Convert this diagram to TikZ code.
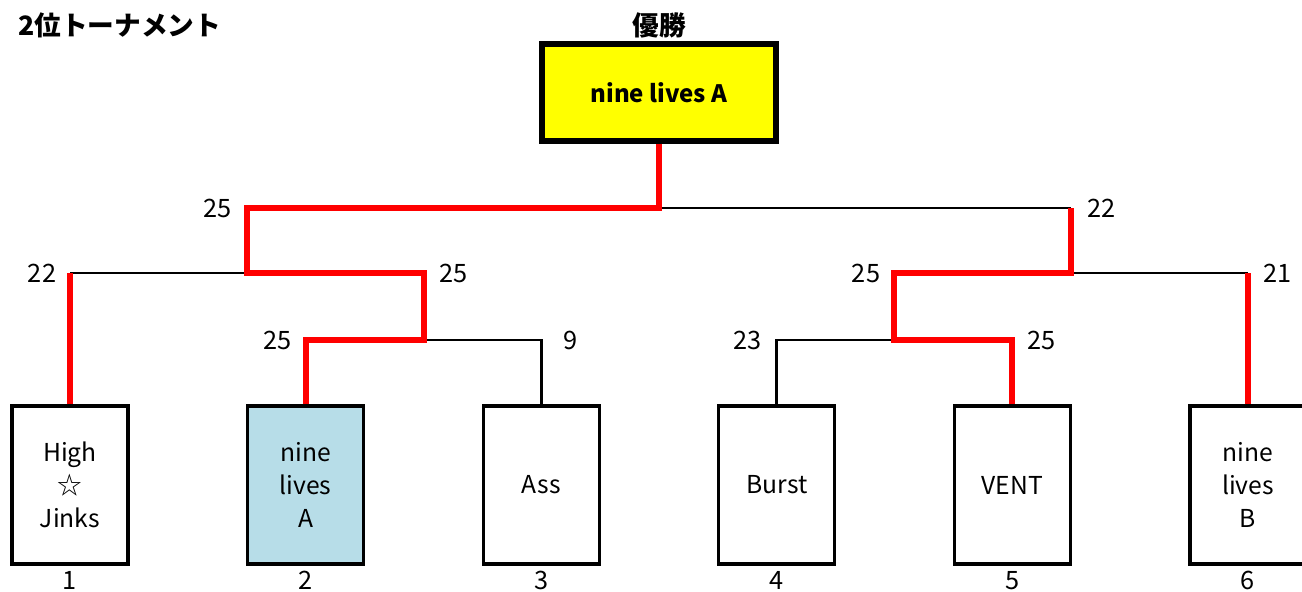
\documentclass[tikz,border=0pt]{standalone}
\usepackage{fontspec}
\setmainfont{Noto Sans CJK JP}
\usepackage{tikz}
\usetikzlibrary{positioning, calc}
\definecolor{champyellow}{RGB}{255,255,0}
\definecolor{teamblue}{RGB}{183,221,232}
\definecolor{winred}{RGB}{255,0,0}
\tikzset{
    team/.style={rectangle, draw=black, line width=2.4pt, fill=white, minimum width=87pt, minimum height=118.5pt, align=center, inner sep=0pt, font=\fontsize{18.5}{24.75}\selectfont},
    champbox/.style={rectangle, draw=black, line width=4.5pt, fill=champyellow, minimum width=175.5pt, minimum height=72.75pt, inner sep=0pt, font=\fontsize{18}{22}\selectfont\bfseries},
    heading/.style={inner sep=0pt, font=\fontsize{20}{24}\selectfont\bfseries},
    score/.style={inner sep=0pt, font=\fontsize{19}{22}\selectfont},
    seed/.style={inner sep=0pt, font=\fontsize{19}{22}\selectfont},
    loser/.style={line width=2pt, black},
    winner/.style={line width=4.5pt, winred}
}
\begin{document}
\begin{tikzpicture}[x=0.75pt, y=-0.75pt, node distance=87.3pt]
    \useasboundingbox (0,0) rectangle (1302,592);

    % Title and champion
    \node (title) [heading, anchor=west] at (18,25) {2位トーナメント};
    \node (champ) [champbox] at (659,92.5) {nine lives A};
    \node (yusho) [heading] at (659,25) {優勝};

    % Teams
    \node (t1) [team] at (70,485) {High\\☆\\Jinks};
    \node (t2) [team, fill=teamblue, right=of t1] {nine\\lives\\A};
    \node (t3) [team, right=of t2] {Ass};
    \node (t4) [team, right=of t3] {Burst};
    \node (t5) [team, right=of t4] {VENT};
    \node (t6) [team, right=of t5] {nine\\lives\\B};

    % Seeds
    \foreach \i in {1,...,6}
        \node (n\i) [seed, below=4pt of t\i] {\i};

    % Bracket points
    \coordinate (fin) at (659,208);
    \coordinate (sa) at (247,273);
    \coordinate (sb) at (1071,273);
    \coordinate (ra) at (424,340);
    \coordinate (rb) at (894,340);

    % Lost lines
    \draw [loser] (fin) -- (sb |- fin);
    \draw [loser] (sa) -- (t1.north |- sa);
    \draw [loser] (sb) -- (t6.north |- sb);
    \draw [loser] (ra) -| (t3.north);
    \draw [loser] (rb) -| (t4.north);

    % Winning path
    \draw [winner] (champ.south) -- (fin) -| (sa) -| (ra) -| (t2.north);
    \draw [winner] (sb |- fin) -- (sb) -| (rb) -| (t5.north);
    \draw [winner] (t1.north) -- (t1.north |- sa);
    \draw [winner] (t6.north) -- (t6.north |- sb);

    % Scores
    \node (s1) [score, xshift=-22pt] at (sa |- fin) {25};
    \node (s2) [score, xshift=23pt] at (sb |- fin) {22};
    \node (s3) [score, xshift=-21pt] at (t1.north |- sa) {22};
    \node (s4) [score, xshift=22pt] at (ra |- sa) {25};
    \node (s5) [score, xshift=-21pt] at (rb |- sb) {25};
    \node (s6) [score, xshift=22pt] at (t6.north |- sb) {21};
    \node (s7) [score, xshift=-21pt] at (t2.north |- ra) {25};
    \node (s8) [score, xshift=22pt] at (t3.north |- ra) {9};
    \node (s9) [score, xshift=-22pt] at (t4.north |- rb) {23};
    \node (s10) [score, xshift=22pt] at (t5.north |- rb) {25};
\end{tikzpicture}
\end{document}
